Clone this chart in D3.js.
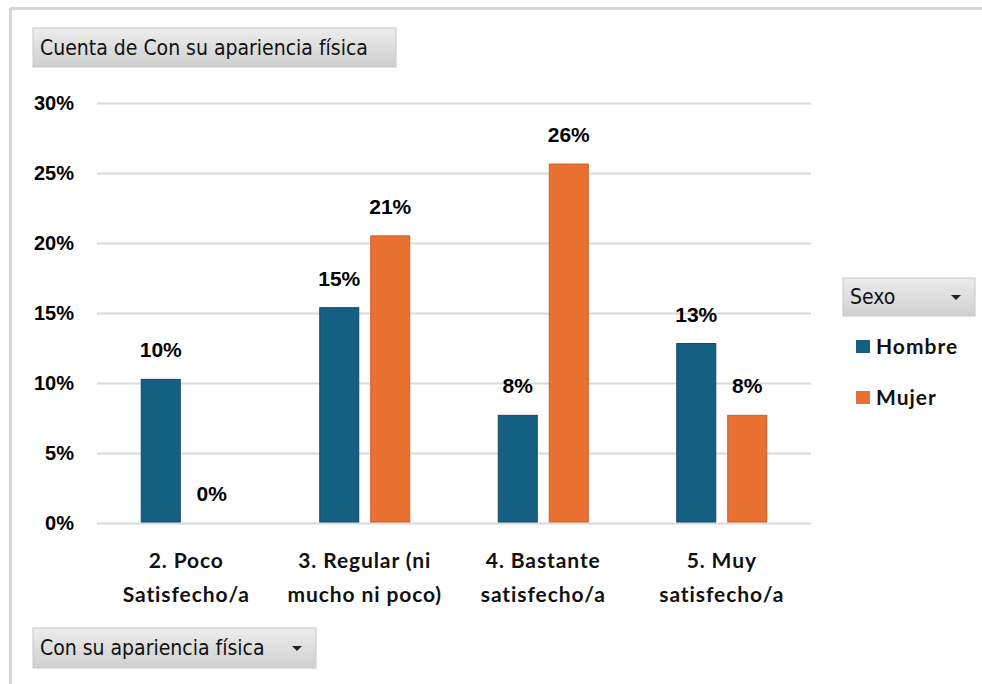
<!DOCTYPE html>
<html>
<head>
<meta charset="utf-8">
<script src="https://cdn.jsdelivr.net/npm/d3@7"></script>
<style>
  body { margin: 0; background: #fff; }
</style>
</head>
<body>
<div id="okvir"></div>
<script>
const categorias = [
  ["2. Poco", "Satisfecho/a"],
  ["3. Regular (ni", "mucho ni poco)"],
  ["4. Bastante", "satisfecho/a"],
  ["5. Muy", "satisfecho/a"]
]
const series = ["Hombre", "Mujer"]
const hombre = [10.26, 15.38, 7.69, 12.82]
const mujer = [0, 20.51, 25.64, 7.69]
const ticksY = [0, 5, 10, 15, 20, 25, 30]
const colores = ["#156082", "#E97132"]
const bordes = ["#0f4a66", "#c95e25"]

const dim = { ancho: 982, alto: 684, izq: 97, der: 811, arriba: 103, abajo: 523 }

const svg = d3.select("#okvir").append("svg")
  .attr("width", dim.ancho)
  .attr("height", dim.alto)

const defs = svg.append("defs")
const grad = defs.append("linearGradient").attr("id", "boton").attr("x1", 0).attr("y1", 0).attr("x2", 0).attr("y2", 1)
grad.append("stop").attr("offset", "0%").attr("stop-color", "#ededed")
grad.append("stop").attr("offset", "100%").attr("stop-color", "#cfcfcf")

// marco exterior
svg.append("line").attr("x1", 10).attr("x2", 982).attr("y1", 8.5).attr("y2", 8.5)
  .attr("stroke", "#d6d6d6").attr("stroke-width", 3)
svg.append("line").attr("x1", 10.5).attr("x2", 10.5).attr("y1", 8).attr("y2", 684)
  .attr("stroke", "#d6d6d6").attr("stroke-width", 3)

const xSkala = d3.scaleBand()
  .domain(d3.range(categorias.length))
  .range([dim.izq, dim.der])

const ySkala = d3.scaleLinear()
  .domain([0, 30])
  .range([dim.abajo, dim.arriba])

const xSub = d3.scaleBand()
  .domain(series)
  .range([0, 91])
  .paddingInner(11 / 51)

// lineas de cuadricula
const yOs = svg.append("g")
  .attr("transform", `translate(${dim.izq},0)`)
  .call(d3.axisLeft(ySkala).tickValues(ticksY).tickSize(-(dim.der - dim.izq)).tickPadding(23).tickFormat(d => d + "%"))
yOs.select(".domain").remove()
yOs.selectAll(".tick line").attr("stroke", "#d9d9d9").attr("stroke-width", 2)
yOs.selectAll(".tick text")
  .attr("fill", "#000")
  .style("font-family", "'Liberation Sans', Arial, sans-serif")
  .style("font-weight", "bold")
  .style("font-size", "20px")

const datos = []
categorias.forEach((c, i) => {
  datos.push({ i, serie: "Hombre", v: hombre[i], k: 0 })
  datos.push({ i, serie: "Mujer", v: mujer[i], k: 1 })
})

const barras = svg.append("g")
const xPar = i => xSkala(i) + xSkala.bandwidth() / 2 - 45.5
barras.selectAll("rect").data(datos.filter(d => d.v > 0)).join("rect")
  .attr("x", d => xPar(d.i) + xSub(d.serie) + 0.5)
  .attr("y", d => ySkala(d.v))
  .attr("width", xSub.bandwidth() - 1)
  .attr("height", d => ySkala(0) - ySkala(d.v) - 1)
  .attr("fill", d => colores[d.k])
  .attr("stroke", d => bordes[d.k])
  .attr("stroke-width", 1)

barras.selectAll("text").data(datos).join("text")
  .attr("x", d => xPar(d.i) + xSub(d.serie) + xSub.bandwidth() / 2)
  .attr("y", d => ySkala(d.v) - 22)
  .attr("text-anchor", "middle")
  .style("font-family", "'Liberation Sans', Arial, sans-serif")
  .style("font-weight", "bold")
  .style("font-size", "21px")
  .text(d => Math.round(d.v) + "%")

// etiquetas de categoria
const catG = svg.append("g")
categorias.forEach((c, i) => {
  const t = catG.append("text")
    .attr("x", xSkala(i) + xSkala.bandwidth() / 2)
    .attr("text-anchor", "middle")
    .style("font-family", "Lato, sans-serif")
    .style("font-weight", "bold")
    .style("font-size", "21px")
    .style("letter-spacing", "0.9px")
    .attr("fill", "#111")
  c.forEach((linea, j) => {
    t.append("tspan").attr("x", xSkala(i) + xSkala.bandwidth() / 2).attr("y", 568 + j * 34).text(linea)
  })
})

// botones
function boton(x, y, w, h, texto, flecha) {
  const g = svg.append("g")
  g.append("rect").attr("x", x).attr("y", y).attr("width", w).attr("height", h)
    .attr("fill", "url(#boton)").attr("stroke", "#c8c8c8")
  g.append("text").attr("x", x + 7).attr("y", y + h / 2 + 7)
    .style("font-family", "'DejaVu Sans Condensed', 'Liberation Sans Narrow', sans-serif")
    .style("font-size", "21px")
    .attr("fill", "#111")
    .text(texto)
  if (flecha) {
    const cx = x + w - 19, cy = y + h / 2
    g.append("path").attr("d", `M${cx - 5},${cy - 2} L${cx + 5},${cy - 2} L${cx},${cy + 3} Z`).attr("fill", "#222")
  }
}
boton(33, 28, 363, 39, "Cuenta de Con su apariencia física", false)
boton(843, 278, 132, 38, "Sexo", true)
boton(33, 628, 283, 40, "Con su apariencia física", true)

// leyenda
const ley = svg.append("g")
series.forEach((s, k) => {
  const y = 346 + k * 51
  ley.append("rect").attr("x", 856).attr("y", y - 6).attr("width", 14).attr("height", 13).attr("fill", colores[k])
  ley.append("text").attr("x", 876).attr("y", y + 8)
    .style("font-family", "Lato, sans-serif")
    .style("font-weight", "bold")
    .style("font-size", "21px")
    .style("letter-spacing", "1px")
    .attr("fill", "#111")
    .text(s)
})
</script>
</body>
</html>
